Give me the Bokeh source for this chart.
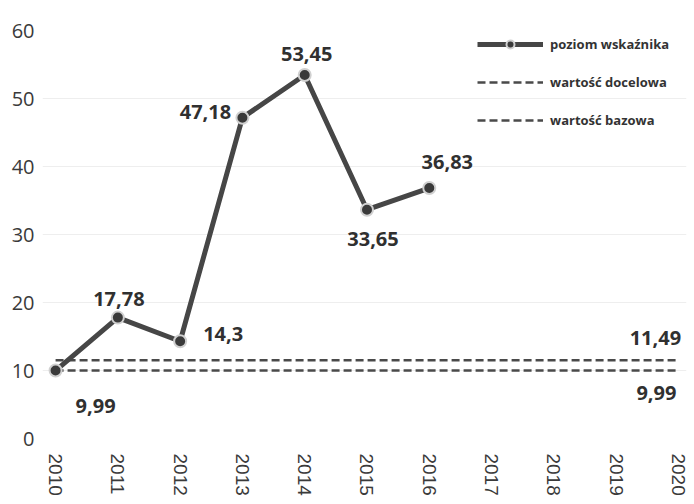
import math
from bokeh.plotting import figure
from bokeh.models import Range1d, Legend, LegendItem, FixedTicker, ColumnDataSource
from bokeh.core.properties import value
from bokeh.embed import file_html
from bokeh.resources import INLINE

# data
years = [2010, 2011, 2012, 2013, 2014, 2015, 2016]
poziom = [9.99, 17.78, 14.3, 47.18, 53.45, 33.65, 36.83]
poziom_labels = ["9,99", "17,78", "14,3", "47,18", "53,45", "33,65", "36,83"]
line_years = [2010, 2020]
docelowa = [11.49, 11.49]
bazowa = [9.99, 9.99]
end_labels = ["11,49", "9,99"]
x_ticks = list(range(2010, 2021))
y_ticks = [0, 10, 20, 30, 40, 50, 60]

# label offsets (pixels, styling only)
lab_dx = [40, 1, 43, -37, 2, 6, 18]
lab_dy = [35, -19, -7, -6, -21, 29, -26]
end_dx = [-23, -22]
end_dy = [-22, 22]

p = figure(width=694, height=504, output_backend="svg", toolbar_location=None,
           x_range=Range1d(2009.79, 2020.13), y_range=Range1d(0, 60),
           min_border_left=42, min_border_right=8, min_border_top=30, min_border_bottom=66)
p.outline_line_color = None
p.background_fill_color = "white"
p.xgrid.grid_line_color = None
p.ygrid.grid_line_color = "#eeeeee"
p.ygrid.ticker = FixedTicker(ticks=y_ticks)

p.xaxis.ticker = FixedTicker(ticks=x_ticks)
p.yaxis.ticker = FixedTicker(ticks=y_ticks)
for ax in (p.xaxis[0], p.yaxis[0]):
    ax.axis_line_color = None
    ax.major_tick_line_color = None
    ax.minor_tick_line_color = None
    ax.major_tick_out = 0
    ax.major_tick_in = 0
    ax.major_label_text_color = "#3a3a3a"
p.yaxis.major_label_text_font = "Open Sans"
p.yaxis.major_label_text_font_size = "20px"
p.yaxis.major_label_standoff = 8
p.xaxis.major_label_text_font = "Liberation Sans"
p.xaxis.major_label_text_font_size = "19px"
p.xaxis.major_label_orientation = -math.pi / 2
p.xaxis.major_label_standoff = 15

r_doc = p.line(line_years, docelowa, line_color="#4a4a4a", line_width=2.5, line_dash="8 4")
r_baz = p.line(line_years, bazowa, line_color="#4a4a4a", line_width=2.5, line_dash="8 4")
r_line = p.line(years, poziom, line_color="#464646", line_width=5)
r_pts = p.scatter(years, poziom, size=12, fill_color="#3a3a3a", line_color="#d0d0d0", line_width=2)

src = ColumnDataSource(dict(x=years, y=poziom, t=poziom_labels, dx=lab_dx, dy=lab_dy))
p.text(x="x", y="y", text="t", x_offset="dx", y_offset="dy", source=src,
       text_font=value("Open Sans"), text_font_style="bold", text_font_size="20px",
       text_color="#303030", text_align="center", text_baseline="middle")

src2 = ColumnDataSource(dict(x=[2020, 2020], y=[docelowa[1], bazowa[1]], t=end_labels, dx=end_dx, dy=end_dy))
p.text(x="x", y="y", text="t", x_offset="dx", y_offset="dy", source=src2,
       text_font=value("Open Sans"), text_font_style="bold", text_font_size="20px",
       text_color="#303030", text_align="center", text_baseline="middle")

legend = Legend(items=[
    LegendItem(label="poziom wskaźnika", renderers=[r_line, r_pts]),
    LegendItem(label="wartość docelowa", renderers=[r_doc]),
    LegendItem(label="wartość bazowa", renderers=[r_baz]),
], location=(435, 308))
legend.glyph_width = 66
legend.glyph_height = 20
legend.label_height = 20
legend.spacing = 18
legend.padding = 5
legend.margin = 0
legend.label_standoff = 7
legend.label_text_font = "Open Sans"
legend.label_text_font_style = "bold"
legend.label_text_font_size = "13px"
legend.label_text_color = "#333333"
legend.border_line_color = None
legend.background_fill_alpha = 0
p.add_layout(legend)

open("out.html", "w").write(file_html(p, INLINE))
